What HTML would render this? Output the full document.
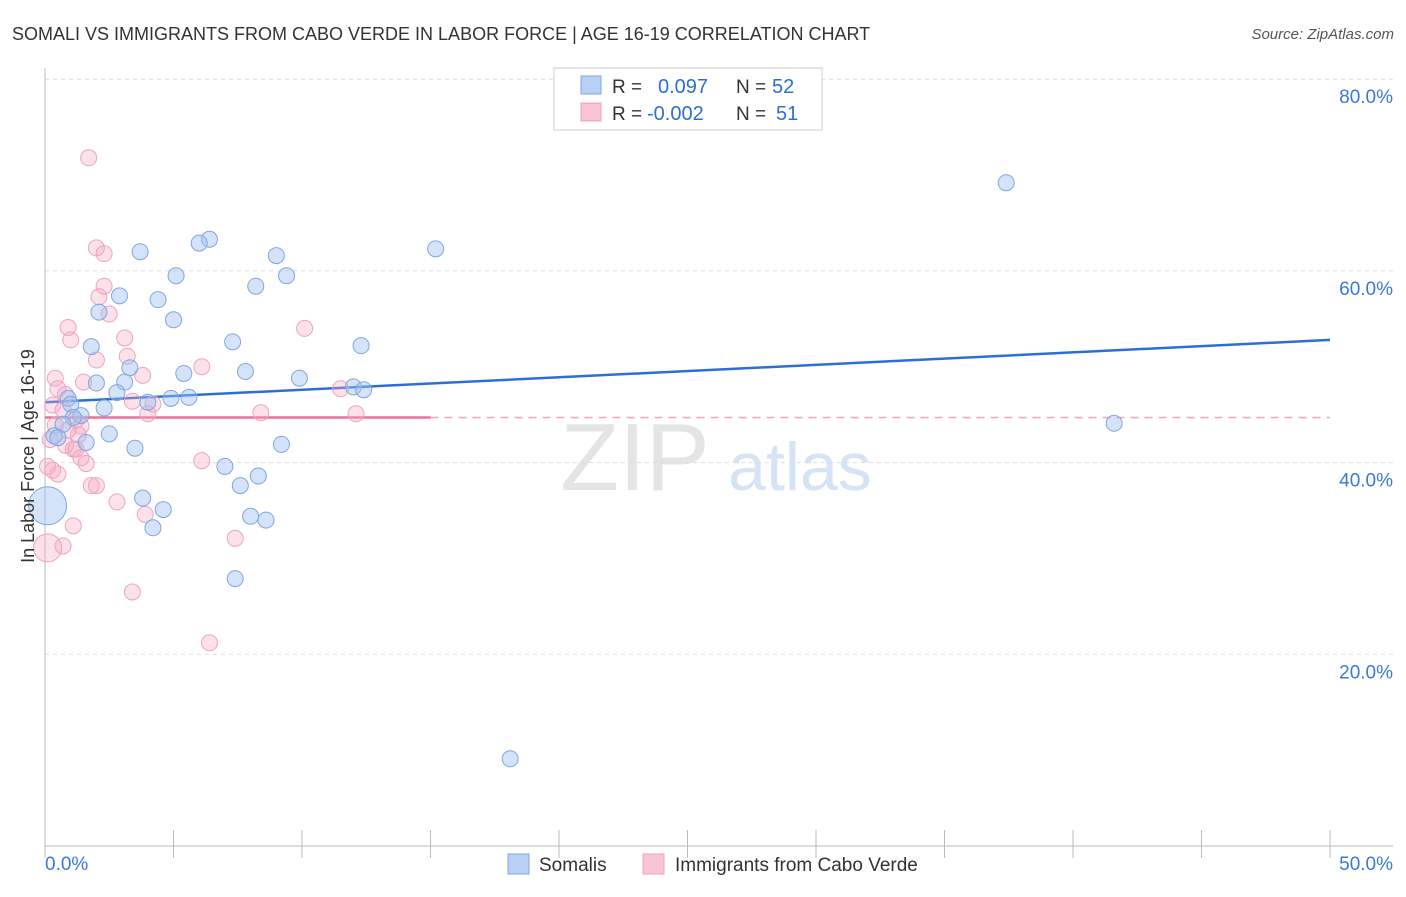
<!DOCTYPE html>
<html><head><meta charset="utf-8"><style>
body{margin:0;background:#fff;font-family:"Liberation Sans",sans-serif}
svg text{font-family:"Liberation Sans",sans-serif}
</style></head><body>
<svg id="chart" width="1406" height="892">
<text x="12" y="40" font-size="18" fill="#333">SOMALI VS IMMIGRANTS FROM CABO VERDE IN LABOR FORCE | AGE 16-19 CORRELATION CHART</text>
<text x="1394" y="39" font-size="15" fill="#555" font-style="italic" text-anchor="end">Source: ZipAtlas.com</text>
<text x="635" y="490" font-size="96" fill="#e4e4e4" font-family="Liberation Serif" text-anchor="middle">ZIP</text>
<text x="800" y="490" font-size="68" fill="#d6e3f5" text-anchor="middle">atlas</text>
<g id="grid"></g><g id="axes"></g><g id="lines"></g><g id="pts"></g>
<text transform="translate(34,456) rotate(-90)" font-size="18" fill="#333" text-anchor="middle">In Labor Force | Age 16-19</text>
<g>
<rect x="554" y="68" width="268" height="62" fill="#fff" stroke="#ccc"/>
<rect x="581" y="76" width="20" height="18" fill="#b8d0f5" stroke="#7fa6e0"/>
<rect x="581" y="103" width="20" height="18" fill="#f9c5d6" stroke="#f0a0bc"/>
<text x="612" y="93" font-size="19" fill="#333">R =</text><text x="658" y="93" font-size="20" fill="#2b6fd6">0.097</text>
<text x="736" y="93" font-size="19" fill="#333">N =</text><text x="772" y="93" font-size="20" fill="#2b6fd6">52</text>
<text x="612" y="120" font-size="19" fill="#333">R =</text><text x="647" y="120" font-size="20" fill="#2b6fd6">-0.002</text>
<text x="736" y="120" font-size="19" fill="#333">N =</text><text x="776" y="120" font-size="20" fill="#2b6fd6">51</text>
</g>
<g>
<rect x="508" y="854" width="21" height="20" fill="#b8d0f5" stroke="#7fa6e0"/>
<text x="539" y="871" font-size="19" fill="#333">Somalis</text>
<rect x="643" y="854" width="21" height="20" fill="#f9c5d6" stroke="#f0a0bc"/>
<text x="675" y="871" font-size="19" fill="#333">Immigrants from Cabo Verde</text>
</g>
</svg>
<script>
const blueX=[37.4,15.2,6.4,6.0,3.7,9.0,9.4,5.1,8.2,4.4,2.9,2.1,5.0,7.3,1.8,12.3,3.3,5.4,7.8,9.9,3.1,2.0,12.0,12.4,2.8,4.9,5.6,0.9,4.0,1.0,2.3,1.4,1.1,0.7,0.35,0.5,1.6,2.5,3.5,9.2,41.6,7.0,8.3,7.6,3.8,4.6,8.0,8.6,4.2,7.4,18.1,0.1];
const blueY=[69.2,62.3,63.3,62.9,62.0,61.6,59.5,59.5,58.4,57.0,57.4,55.7,54.9,52.6,52.1,52.2,49.9,49.3,49.5,48.8,48.4,48.3,47.9,47.6,47.3,46.7,46.8,46.7,46.3,46.1,45.7,44.9,44.7,44.0,42.8,42.6,42.1,43.0,41.5,41.9,44.1,39.6,38.6,37.6,36.3,35.1,34.4,34.0,33.2,27.9,9.1,35.5];
const blueBig=[51];
const pinkX=[1.7,2.0,2.3,2.3,2.1,2.5,10.1,0.9,1.0,3.1,3.2,2.0,6.1,3.8,0.4,1.5,11.5,0.5,0.8,3.4,4.2,4.0,8.4,12.1,0.3,0.7,1.2,1.4,0.4,0.8,1.1,1.2,1.4,1.6,6.1,0.1,0.3,0.5,1.8,2.0,2.8,3.9,1.1,7.4,0.7,0.1,3.4,6.4,0.2,1.3,0.9];
const pinkY=[71.8,62.4,61.8,58.4,57.3,55.5,54.0,54.1,52.8,53.0,51.1,50.7,50.0,49.1,48.8,48.4,47.7,47.7,47.1,46.4,46.1,45.1,45.2,45.1,46.0,45.5,44.4,43.8,43.9,41.8,41.4,41.4,40.5,39.9,40.2,39.6,39.2,38.8,37.6,37.6,35.9,34.6,33.4,32.1,31.3,31.1,26.5,21.2,42.4,42.9,43.4];
const pinkBig=[45];
const yTicks=[20,40,60,80];
const blueTrend=[46.3,52.8];
const pinkTrend=[44.7,44.7];
const NS='http://www.w3.org/2000/svg';
const X=v=>45+v*25.7, Y=v=>846-v*9.585;
function mk(p,t,a){const e=document.createElementNS(NS,t);for(const k in a)e.setAttribute(k,a[k]);document.getElementById(p).appendChild(e);return e;}
yTicks.forEach(t=>{
 const l=mk('grid','line',{x1:45,x2:1393,y1:Y(t),y2:Y(t),stroke:'#ddd','stroke-dasharray':'4,4'});
 
 
 const tx=mk('grid','text',{x:1393,y:Y(t)+24,'font-size':19,fill:'#3b78d8','text-anchor':'end'});tx.textContent=t.toFixed(1)+'%';
 
 
});
mk('axes','line',{x1:45,x2:45,y1:68,y2:846,stroke:'#bbb'});
mk('axes','line',{x1:45,x2:1393,y1:846,y2:846,stroke:'#bbb'});
for(let i=0;i<=10;i++){mk('axes','line',{x1:X(i*5),x2:X(i*5),y1:830,y2:858,stroke:'#bbb'});}
let t0=mk('axes','text',{x:45,y:870,'font-size':19,fill:'#3b78d8'});t0.textContent='0.0%';


let t1=mk('axes','text',{x:1393,y:870,'font-size':19,fill:'#3b78d8','text-anchor':'end'});t1.textContent='50.0%';


function pts(xs,ys,big,fill,stroke,name){xs.forEach((x,i)=>{const c=mk('pts','circle',{cx:X(x),cy:Y(ys[i]),r:big.includes(i)?(name=='somali'?19:14):8,fill:fill,stroke:stroke,'stroke-width':1});
 
 });}
pts(pinkX,pinkY,pinkBig,'rgba(245,170,195,0.35)','#eea3be','cabo-verde');
pts(blueX,blueY,blueBig,'rgba(160,192,240,0.45)','#7fa6e0','somali');
let bl=mk('lines','line',{x1:X(0),x2:X(50),y1:Y(blueTrend[0]),y2:Y(blueTrend[1]),stroke:'#2b6fd6','stroke-width':2.5});


let pl=mk('lines','line',{x1:X(0),x2:X(15),y1:Y(pinkTrend[0]),y2:Y(pinkTrend[1]),stroke:'#e8729a','stroke-width':2.5});


let pd=mk('lines','line',{x1:X(15),x2:X(50),y1:Y(pinkTrend[0]),y2:Y(pinkTrend[1]),stroke:'#eea3be','stroke-width':1.5,'stroke-dasharray':'8,6'});


</script>
</body></html>
